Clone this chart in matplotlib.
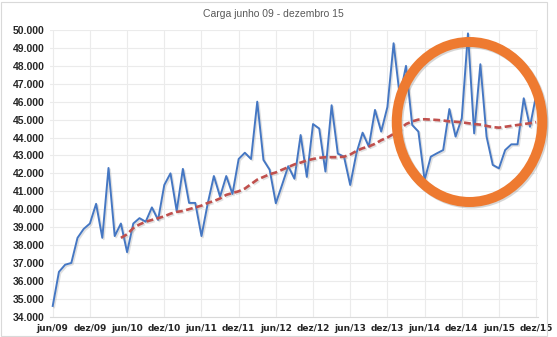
import matplotlib
matplotlib.use('Agg')
from matplotlib import pyplot as plt
from matplotlib import patheffects as pe
from matplotlib.patches import Ellipse, Rectangle

# data: monthly load, jun/09 .. dez/15
carga = [34.6, 36.5, 36.9, 37.0, 38.4, 38.9, 39.2, 40.3, 38.4, 42.3,
         38.5, 39.2, 37.6, 39.2, 39.5, 39.3, 40.1, 39.4, 41.35, 42.0,
         39.9, 42.25, 40.35, 40.35, 38.5, 40.3, 41.85, 40.7, 41.85, 40.85,
         42.8, 43.15, 42.8, 46.0, 42.75, 42.2, 40.33, 41.35, 42.4, 41.7,
         44.14, 41.8, 44.75, 44.5, 42.1, 45.8, 43.1, 42.93, 41.35, 43.12,
         44.27, 43.49, 45.54, 44.33, 45.7, 49.26, 46.28, 48.0, 44.7, 44.33,
         41.63, 42.93, 43.12, 43.3, 45.59, 44.05, 45.07, 49.81, 44.23, 48.09,
         44.05, 42.47, 42.28, 43.3, 43.62, 43.62, 46.19, 44.6, 46.37]

# red dashed moving average, starts on the 12th month
media_inicio = 11
media = [38.4, 38.6, 38.95, 39.15, 39.3, 39.4, 39.5, 39.6, 39.75, 39.85,
         39.9, 40.0, 40.1, 40.2, 40.35, 40.45, 40.6, 40.8, 40.9, 41.0,
         41.15, 41.4, 41.65, 41.8, 41.95, 42.05, 42.2, 42.35, 42.5, 42.6,
         42.72, 42.8, 42.87, 42.9, 42.9, 42.9, 42.93, 43.05, 43.25, 43.4,
         43.5, 43.65, 43.85, 44.0, 44.2, 44.45, 44.75, 44.9, 45.0, 45.02,
         45.0, 44.98, 44.95, 44.9, 44.88, 44.85, 44.8, 44.75, 44.72, 44.65,
         44.58, 44.55, 44.6, 44.65, 44.7, 44.75, 44.8, 44.85]

tick_labels = ['jun/09', 'dez/09', 'jun/10', 'dez/10', 'jun/11', 'dez/11', 'jun/12',
               'dez/12', 'jun/13', 'dez/13', 'jun/14', 'dez/14', 'jun/15', 'dez/15']
y_ticks = list(range(34, 51))

W, H = 557, 337
fig = plt.figure(figsize=(W / 100, H / 100), dpi=100)
ax = fig.add_axes([50 / W, (H - 316.7) / H, 488 / W, 286.7 / H])

x = list(range(len(carga)))
xm = list(range(media_inicio, media_inicio + len(media)))

shadow = [pe.SimpleLineShadow(offset=(1.0, -1.0), shadow_color='#9a9a9a', alpha=0.3),
          pe.Normal()]
ax.plot(x, carga, color='#4577C3', lw=1.4, zorder=3, path_effects=shadow)
ax.plot(xm, media, color='#C0504D', lw=1.9, ls=(0, (2.6, 1.3)), zorder=4,
        path_effects=shadow)

ax.set_xlim(-0.44, 78.3)
ax.set_ylim(34, 50)
ax.set_yticks(y_ticks)
ax.set_yticklabels(['%d.000' % v for v in y_ticks], fontsize=7.5, fontweight='bold',
                   color='#262626', family='Liberation Sans')
ax.set_xticks(range(0, 79, 6))
ax.set_xticklabels(tick_labels, fontsize=6.5, fontweight='bold', color='#262626',
                   family='Liberation Sans Narrow')
ax.tick_params(length=0, pad=4)
ax.tick_params(axis='x', pad=5)
ax.grid(True, color='#EBEBEB', lw=0.8)
ax.set_axisbelow(True)
for s in ax.spines.values():
    s.set_visible(False)
ax.spines['bottom'].set_visible(True)
ax.spines['bottom'].set_color('#D9D9D9')

fig.text(273.5 / W, 1 - 14 / H, 'Carga junho 09 - dezembro 15', ha='center', va='center',
         fontsize=7.5, color='#595959', family='Liberation Sans')

# orange circle highlight with a soft shadow
cx, cy, ew, eh = 469.5, 122, 145.5, 160
fig.add_artist(Ellipse(((cx + 1.5) / W, 1 - (cy + 1.5) / H), ew / W, eh / H,
                       transform=fig.transFigure, fill=False, ec='#7a7a7a', alpha=0.3,
                       lw=7.2, zorder=9))
fig.add_artist(Ellipse((cx / W, 1 - cy / H), ew / W, eh / H, transform=fig.transFigure,
                       fill=False, ec='#EE7A30', lw=7.2, zorder=10))

# chart border
fig.add_artist(Rectangle((1 / W, 1 / H), 546 / W, 334 / H, transform=fig.transFigure,
                         fill=False, ec='#D9D9D9', lw=0.8))

fig.savefig('out.png', dpi=100)
